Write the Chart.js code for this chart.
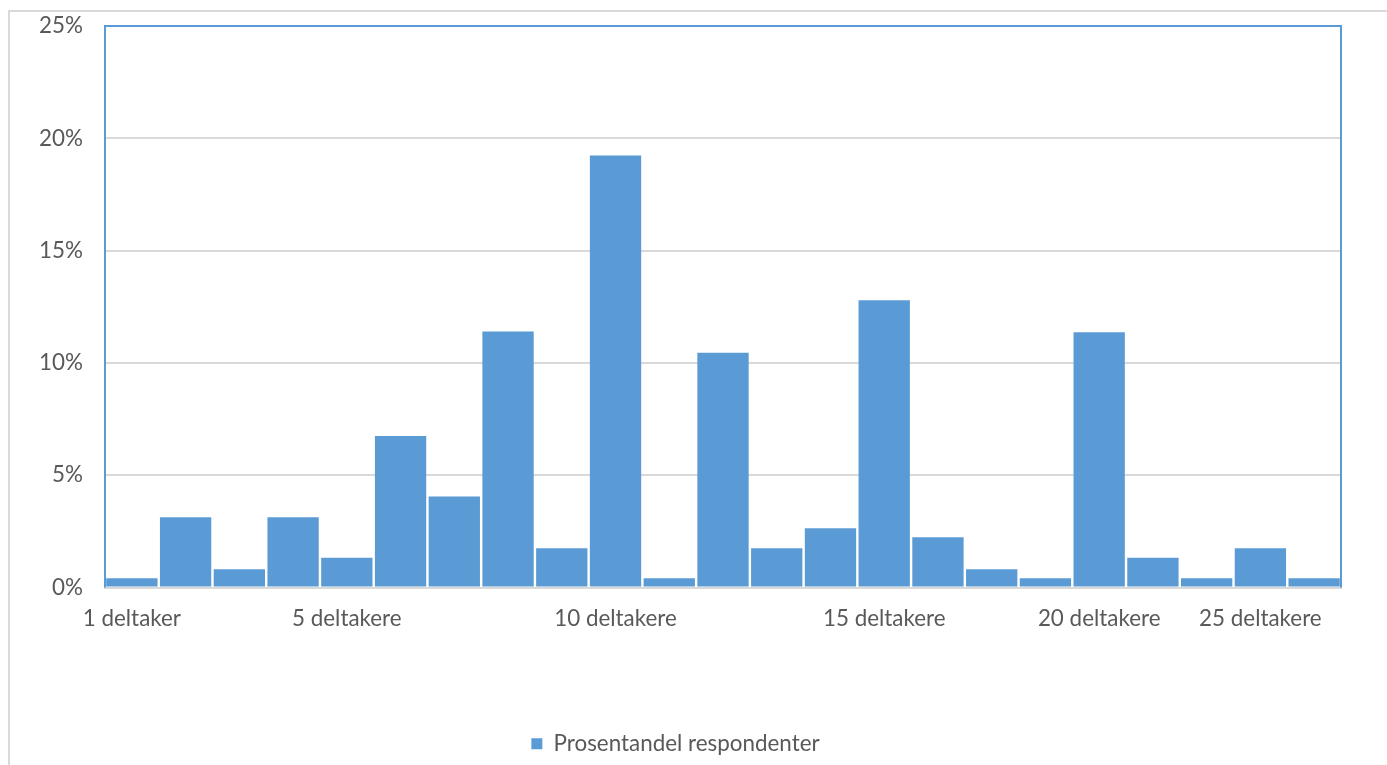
<!DOCTYPE html>
<html>
<head>
<meta charset="utf-8">
<script src="https://cdn.jsdelivr.net/npm/chart.js@4/dist/chart.umd.min.js"></script>
<style>
  body { margin: 0; background: #fff; overflow: hidden; }
  #frame { position: absolute; left: 8px; top: 10px; width: 2000px; height: 2000px;
           border-left: 2px solid #d9d9d9; border-top: 2px solid #d9d9d9; }
  #deltakereChart { position: absolute; left: 0; top: 0; }
</style>
</head>
<body>
<div id="frame"></div>
<canvas id="deltakereChart" width="1387" height="765"></canvas>
<script>
const labels = ['1 deltaker', '', '', '', '5 deltakere', '', '', '', '', '10 deltakere', '', '', '', '',
  '15 deltakere', '', '', '', '20 deltakere', '', '', '25 deltakere', ''];
const prosent = [0.42, 3.13, 0.82, 3.13, 1.33, 6.75, 4.05, 11.4, 1.75, 19.23, 0.42, 10.46, 1.75, 2.64,
  12.79, 2.24, 0.82, 0.42, 11.37, 1.33, 0.42, 1.75, 0.42];
const yTicks = [0, 5, 10, 15, 20, 25];

const tekst = '#595959';
const blaa = '#5b9bd5';
const fontSize = 22.4;

const plotRamme = {
  id: 'plotRamme',
  afterDraw(chart) {
    const a = chart.chartArea;
    const c = chart.ctx;
    c.save();
    c.strokeStyle = blaa;
    c.lineWidth = 2;
    c.beginPath();
    c.moveTo(a.left, a.bottom);
    c.lineTo(a.left, a.top);
    c.lineTo(a.right, a.top);
    c.lineTo(a.right, a.bottom);
    c.stroke();
    c.restore();
  }
};

new Chart(document.getElementById('deltakereChart'), {
  type: 'bar',
  data: {
    labels,
    datasets: [{
      label: 'Prosentandel respondenter',
      data: prosent,
      backgroundColor: blaa,
      borderWidth: 0,
      barPercentage: 0.955,
      categoryPercentage: 1
    }]
  },
  options: {
    responsive: false,
    animation: false,
    layout: { padding: { left: 10, right: 46, top: 26, bottom: 0 } },
    plugins: {
      legend: {
        position: 'bottom',
        labels: { color: tekst, font: { family: 'Lato', size: fontSize }, boxWidth: 11, boxHeight: 11, padding: 10 }
      },
      tooltip: { enabled: false }
    },
    scales: {
      x: {
        grid: { display: false, drawTicks: false },
        border: { color: '#d9d9d9', width: 2 },
        ticks: { color: tekst, font: { family: 'Lato', size: fontSize }, autoSkip: false, maxRotation: 0, padding: 18 },
        afterFit(s) { s.height = 135; s.paddingLeft = 0; s.paddingRight = 0; }
      },
      y: {
        min: 0, max: 25,
        afterBuildTicks(s) { s.ticks = yTicks.map(v => ({ value: v })); },
        grid: { color: '#d9d9d9', lineWidth: 2, drawTicks: false },
        border: { display: false },
        ticks: { color: tekst, font: { family: 'Lato', size: fontSize }, padding: 22, callback: v => v + '%' },
        afterFit(s) { s.width = 95; s.paddingTop = 0; s.paddingBottom = 0; }
      }
    }
  },
  plugins: [plotRamme]
});
</script>
</body>
</html>
